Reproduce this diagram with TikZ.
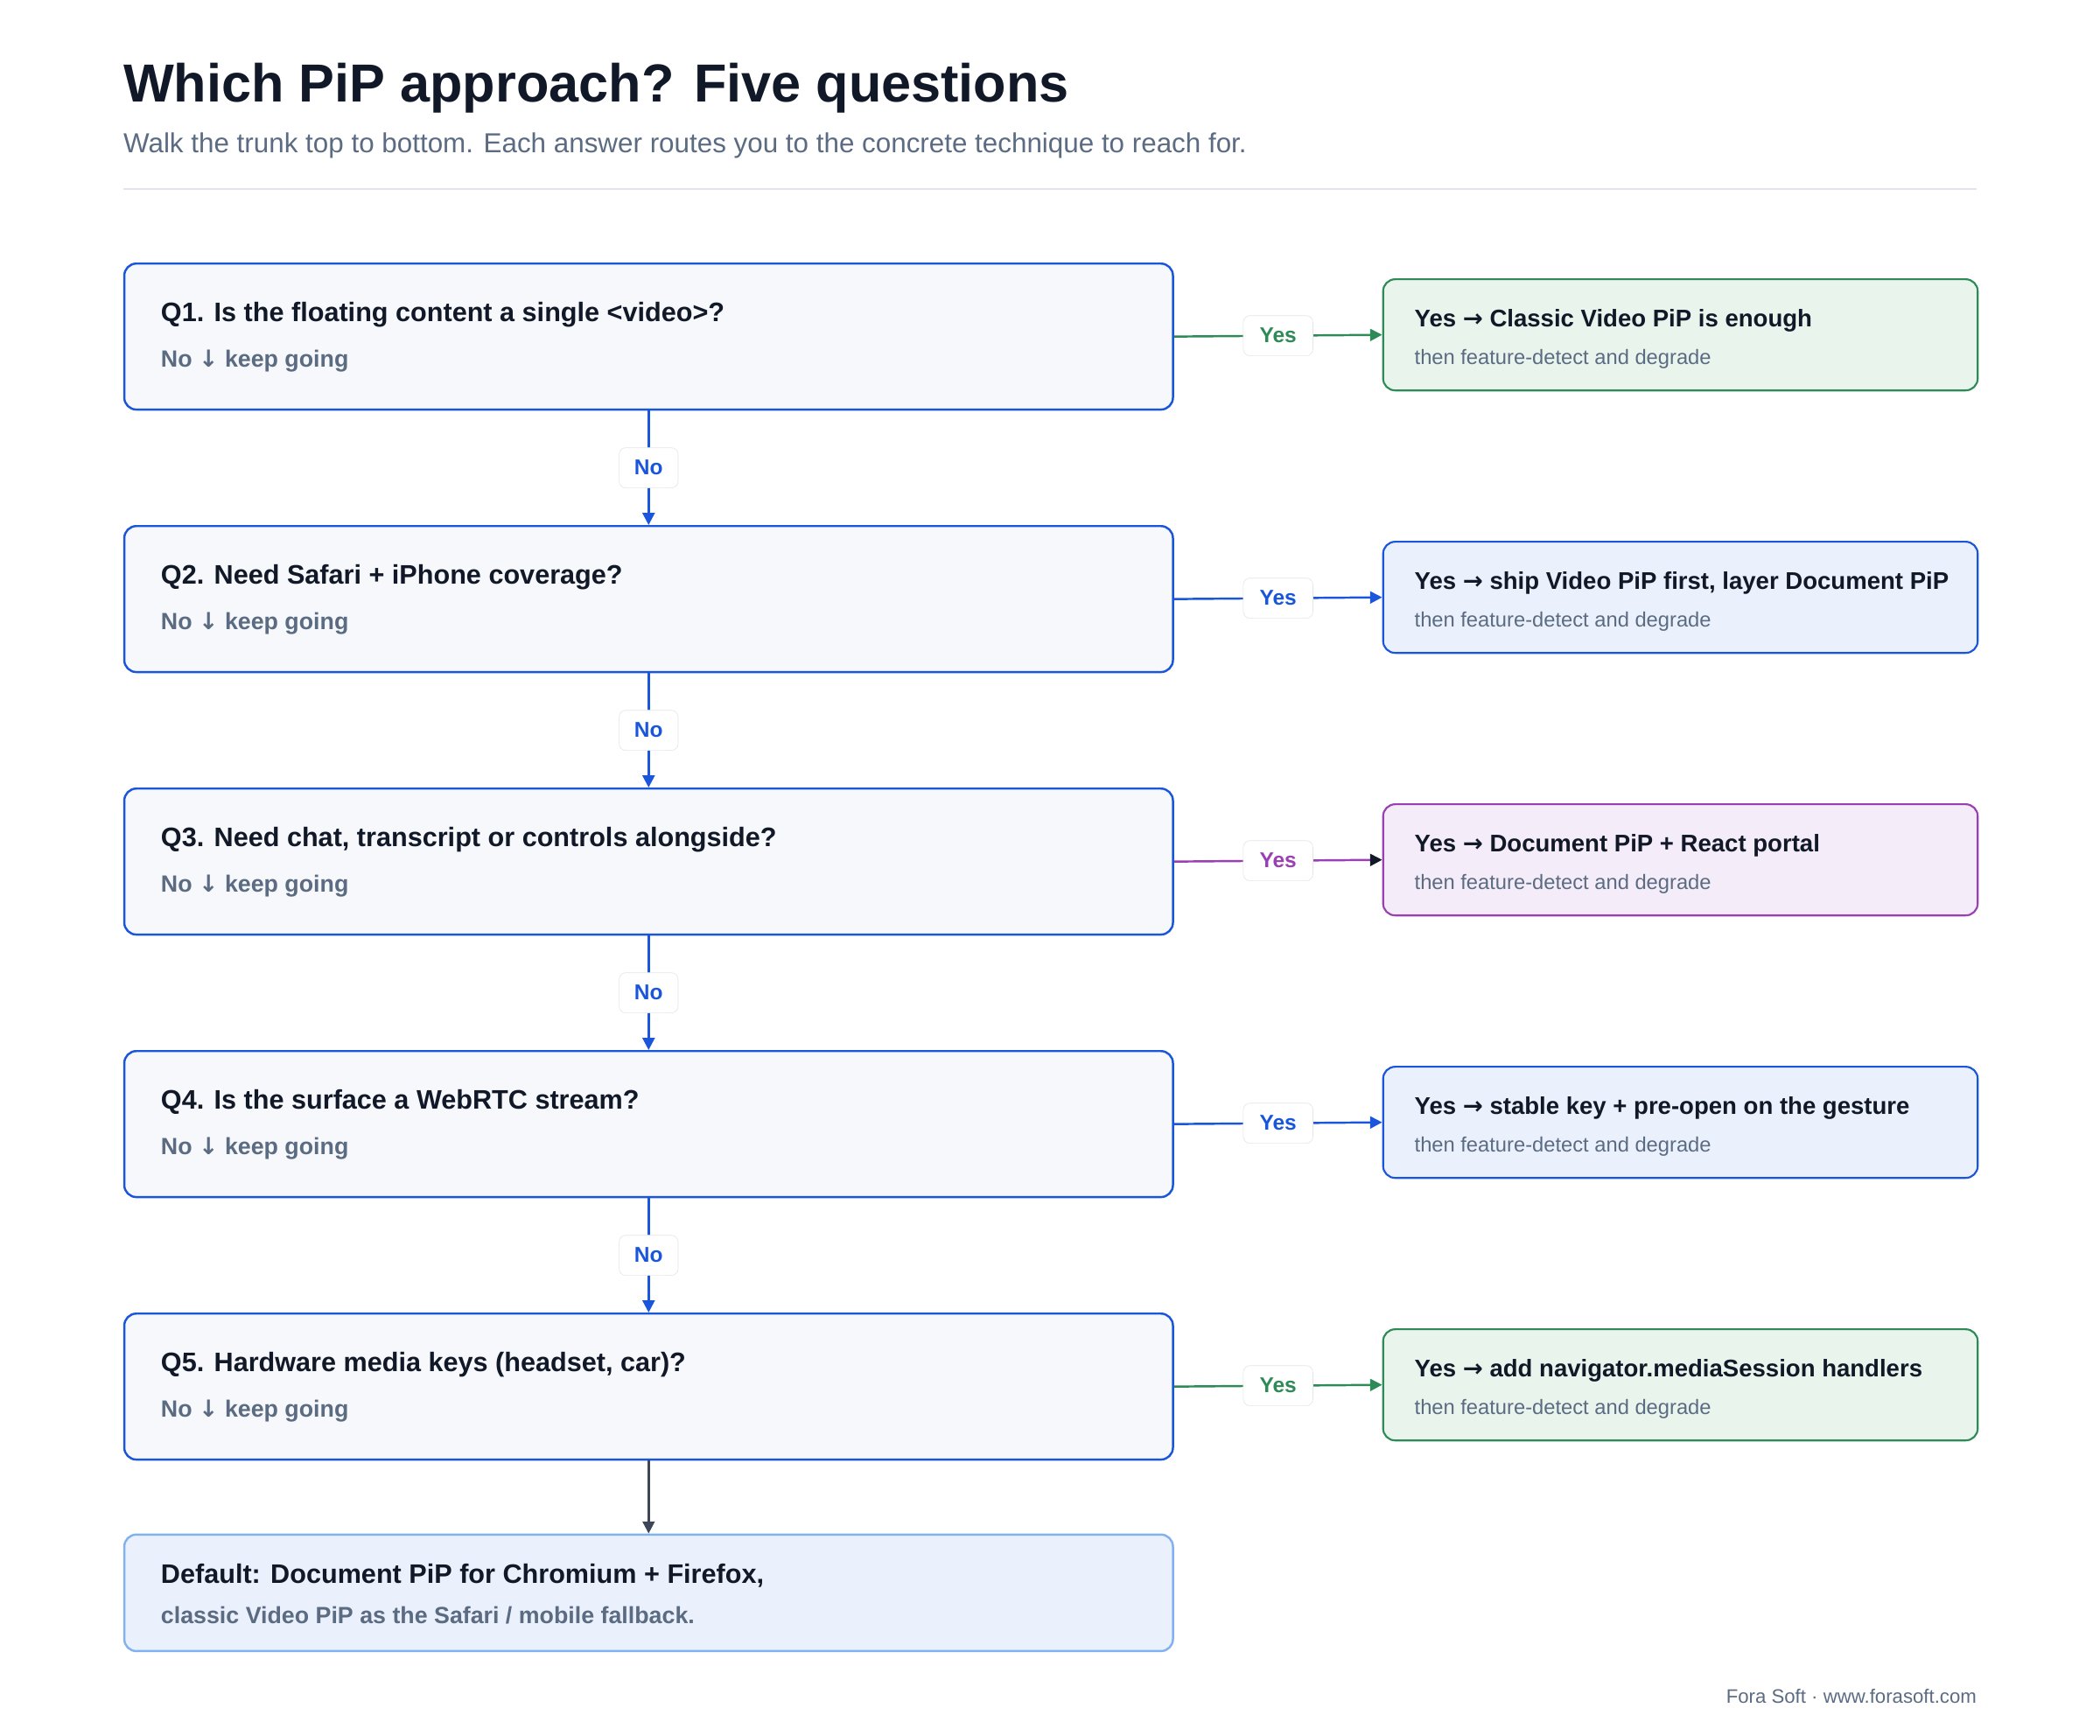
\documentclass[tikz,border=0pt]{standalone}
\usepackage{fontspec}
\setmainfont{Liberation Sans}
\newfontfamily\arr{DejaVu Sans}
\usetikzlibrary{arrows.meta,calc}
\definecolor{ink}{HTML}{111827}
\definecolor{sub}{HTML}{5B6B82}
\definecolor{qblue}{HTML}{1A56DB}
\definecolor{qfill}{HTML}{F6F8FB}
\definecolor{gline}{HTML}{2E8B57}
\definecolor{gfill}{HTML}{E8F4EC}
\definecolor{bfill}{HTML}{EAF1FD}
\definecolor{pline}{HTML}{9B3FB5}
\definecolor{pfill}{HTML}{F4ECF8}
\definecolor{dline}{HTML}{80B2F2}
\definecolor{lgray}{HTML}{E2E5EA}
\definecolor{trunk}{HTML}{3C4656}
\newcommand{\ra}{{\arr\symbol{"2192}}}
\newcommand{\da}{{\arr\symbol{"2193}}}
\tikzset{
 q/.style={draw=qblue,line width=1.6pt,fill=qfill,rounded corners=9pt,minimum width=783pt,minimum height=109pt,anchor=north west},
 r/.style={line width=1.4pt,rounded corners=9pt,minimum width=444pt,minimum height=83pt,anchor=west},
 lab/.style={draw=lgray,fill=white,rounded corners=5pt,font=\bfseries\fontsize{16}{18}\selectfont,inner sep=0pt,minimum height=30pt},
 qt/.style={anchor=base west,font=\bfseries\fontsize{20}{22}\selectfont,text=ink},
 qs/.style={anchor=base west,font=\bfseries\fontsize{17.5}{20}\selectfont,text=sub},
 rt/.style={anchor=base west,font=\bfseries\fontsize{18}{20}\selectfont,text=ink},
 rs/.style={anchor=base west,font=\fontsize{15.5}{18}\selectfont,text=sub},
 conn/.style={line width=1.6pt,-{Triangle[length=9pt,width=9pt]}},
}
\begin{document}
\begin{tikzpicture}[x=1pt,y=-1pt]
\useasboundingbox[fill=white] (0,0) rectangle (1568,1296);
\node[anchor=base west,font=\bfseries\fontsize{40}{44}\selectfont,text=ink,inner sep=0] (title) at (92,76) {Which PiP approach? Five questions};
\node[anchor=base west,font=\fontsize{20.5}{22}\selectfont,text=sub,inner sep=0] (subt) at (92,114) {Walk the trunk top to bottom. Each answer routes you to the concrete technique to reach for.};
\draw[lgray,line width=1pt] (92,141) -- (1476,141);
\foreach \i/\y/\t in {1/196/{Q1. Is the floating content a single <video>?},2/392/{Q2. Need Safari + iPhone coverage?},3/588/{Q3. Need chat, transcript or controls alongside?},4/784/{Q4. Is the surface a WebRTC stream?},5/980/{Q5. Hardware media keys (headset, car)?}}{
 \node[q] (q\i) at (92,\y) {};
 \node[qt,inner sep=0] (qt\i) at (120,\y+44) {\t};
 \node[qs,inner sep=0] (qs\i) at (120,\y+78) {No \da\ keep going};
}
\foreach \i/\y/\lc/\fc/\t in {1/250/gline/gfill/{Classic Video PiP is enough},2/446/qblue/bfill/{ship Video PiP first, layer Document PiP},3/642/pline/pfill/{Document PiP + React portal},4/838/qblue/bfill/{stable key + pre-open on the gesture},5/1034/gline/gfill/{add navigator.mediaSession handlers}}{
 \node[r,draw=\lc,fill=\fc] (r\i) at (1032,\y) {};
 \node[rt,inner sep=0] (rt\i) at (1056,\y-6) {Yes \ra\ \t};
 \node[rs,inner sep=0] (rs\i) at (1056,\y+22) {then feature-detect and degrade};
}
\foreach \i/\c/\h in {1/gline/gline,2/qblue/qblue,3/pline/ink,4/qblue/qblue,5/gline/gline}{
 \draw[line width=1.6pt,\c,-{Triangle[length=9pt,width=9pt,color=\h,fill=\h]}] (q\i.east) -- (r\i.west);
 \node[lab,minimum width=52pt,text=\c] (y\i) at ($(q\i.east)!0.5!(r\i.west)$) {Yes};
}
\foreach \i/\j in {1/2,2/3,3/4,4/5}{
 \draw[conn,qblue] (q\i.south) -- (q\j.north);
 \node[lab,minimum width=44pt,text=qblue] (n\i) at ($(q\i.south)!0.5!(q\j.north)$) {No};
}
\node[draw=dline,line width=1.6pt,fill=bfill,rounded corners=9pt,minimum width=783pt,minimum height=87pt,anchor=north west] (def) at (92,1145) {};
\draw[conn,trunk] (q5.south) -- (def.north);
\node[qt,inner sep=0] (dt) at (120,1182) {Default: Document PiP for Chromium + Firefox,};
\node[qs,inner sep=0] (ds) at (120,1212) {classic Video PiP as the Safari / mobile fallback.};
\node[anchor=base east,font=\fontsize{14.5}{16}\selectfont,text=sub,inner sep=0] (foot) at (1476,1272) {Fora Soft · www.forasoft.com};
\end{tikzpicture}
\end{document}
